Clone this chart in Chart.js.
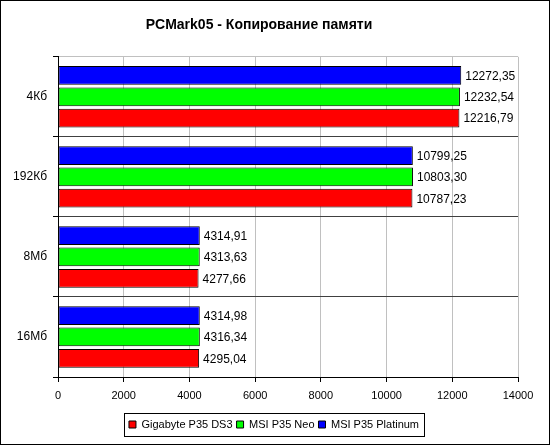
<!DOCTYPE html>
<html>
<head>
<meta charset="utf-8">
<script src="https://cdn.jsdelivr.net/npm/chart.js@4/dist/chart.umd.min.js"></script>
<style>
  html, body { margin: 0; padding: 0; background: #fff; }
  canvas { display: block; }
</style>
</head>
<body>
<canvas id="memChart" width="550" height="445"></canvas>
<script>
// data
const categories = ['4Кб', '192Кб', '8Мб', '16Мб'];
const gigabyteDS3 = [12216.79, 10787.23, 4277.66, 4295.04];
const msiNeo = [12232.54, 10803.30, 4313.63, 4316.34];
const msiPlatinum = [12272.35, 10799.25, 4314.91, 4314.98];
const xTicks = [0, 2000, 4000, 6000, 8000, 10000, 12000, 14000];

const fontFamily = '"Liberation Sans", Arial, sans-serif';

// numbers next to the bars, with a comma as in the original
const valueLabels = {
  id: 'valueLabels',
  afterDatasetsDraw(chart) {
    const ctx = chart.ctx;
    ctx.save();
    ctx.font = '12px ' + fontFamily;
    ctx.fillStyle = '#000';
    ctx.textAlign = 'left';
    ctx.textBaseline = 'middle';
    chart.data.datasets.forEach((ds, i) => {
      chart.getDatasetMeta(i).data.forEach((bar, j) => {
        const txt = ds.data[j].toFixed(2).replace('.', ',');
        ctx.fillText(txt, bar.x + 4, bar.y + 1);
      });
    });
    ctx.restore();
  }
};

// frame round the whole picture and box round the legend
let legendShifted = false;
const frames = {
  id: 'frames',
  beforeDraw(chart) {
    // legend is centred on the whole picture in the original
    if (legendShifted) return;
    const lg = chart.legend;
    const dx = (chart.width / 2) - (lg.left + lg.right) / 2 - 1;
    lg.left += dx;
    lg.right += dx;
    lg.legendHitBoxes.forEach(b => { b.left += dx; });
    legendShifted = true;
  },
  afterDraw(chart) {
    const ctx = chart.ctx;
    ctx.save();
    ctx.strokeStyle = '#000';
    ctx.lineWidth = 1;
    ctx.strokeRect(0.5, 0.5, chart.width - 1, chart.height - 1);
    const boxes = chart.legend.legendHitBoxes;
    if (boxes && boxes.length) {
      const left = Math.round(boxes[0].left) - 5;
      const last = boxes[boxes.length - 1];
      const right = Math.round(last.left + last.width) + 5;
      const top = Math.round(boxes[0].top) - 6;
      const bottom = Math.round(boxes[0].top + boxes[0].height) + 6;
      ctx.strokeRect(left + 0.5, top + 0.5, right - left, bottom - top);
    }
    ctx.restore();
  }
};

const ctx = document.getElementById('memChart').getContext('2d');
new Chart(ctx, {
  type: 'bar',
  data: {
    labels: categories,
    datasets: [
      { label: 'MSI P35 Platinum', data: msiPlatinum, backgroundColor: '#0000ff' },
      { label: 'MSI P35 Neo', data: msiNeo, backgroundColor: '#00ff00' },
      { label: 'Gigabyte P35 DS3', data: gigabyteDS3, backgroundColor: '#ff0000' }
    ]
  },
  options: {
    indexAxis: 'y',
    responsive: false,
    animation: false,
    devicePixelRatio: 1,
    datasets: {
      bar: {
        borderColor: '#000',
        borderWidth: 1,
        borderSkipped: false,
        categoryPercentage: 0.8,
        barPercentage: 0.88
      }
    },
    layout: { padding: { left: 0, right: 32, top: 0, bottom: 5 } },
    scales: {
      x: {
        min: 0,
        max: 14000,
        afterBuildTicks(scale) {
          scale.ticks = xTicks.map(v => ({ value: v }));
        },
        afterFit(scale) { scale.height = 38; },
        grid: {
          color: '#c0c0c0',
          tickColor: '#000',
          tickLength: 5
        },
        border: { color: '#000' },
        ticks: {
          color: '#000',
          font: { size: 11, family: fontFamily },
          padding: 7,
          maxRotation: 0,
          callback: v => String(v)
        }
      },
      y: {
        afterFit(scale) { scale.width = 58; },
        grid: {
          color: ctx => ctx.index === 0 ? '#c0c0c0' : '#404040',
          tickColor: '#000',
          tickLength: 5
        },
        border: { color: '#000' },
        ticks: {
          color: '#000',
          font: { size: 12, family: fontFamily },
          padding: 6
        }
      }
    },
    plugins: {
      title: {
        display: true,
        text: 'PCMark05 - Копирование памяти',
        color: '#000',
        font: { size: 14, weight: 'bold', family: fontFamily },
        padding: { top: 17, bottom: 23 }
      },
      legend: {
        position: 'bottom',
        reverse: true,
        labels: {
          color: '#000',
          font: { size: 11, family: fontFamily },
          boxWidth: 7,
          boxHeight: 7,
          padding: 4
        }
      },
      tooltip: { enabled: false }
    }
  },
  plugins: [valueLabels, frames]
});
</script>
</body>
</html>
